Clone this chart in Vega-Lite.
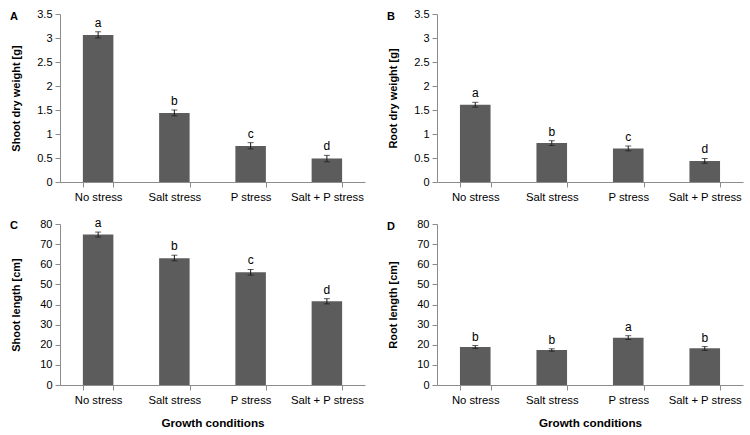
{
  "$schema": "https://vega.github.io/schema/vega-lite/v6.json",
  "padding": {"left": 10, "top": 8, "right": 5, "bottom": 3},
  "background": "white",
  "datasets": {
    "A": [
      {"cond": "No stress", "value": 3.06, "lo": 3.0, "hi": 3.13, "sig": "a"},
      {"cond": "Salt stress", "value": 1.44, "lo": 1.38, "hi": 1.5, "sig": "b"},
      {"cond": "P stress", "value": 0.75, "lo": 0.69, "hi": 0.82, "sig": "c"},
      {"cond": "Salt + P stress", "value": 0.49, "lo": 0.42, "hi": 0.555, "sig": "d"}
    ],
    "B": [
      {"cond": "No stress", "value": 1.61, "lo": 1.56, "hi": 1.66, "sig": "a"},
      {"cond": "Salt stress", "value": 0.81, "lo": 0.76, "hi": 0.86, "sig": "b"},
      {"cond": "P stress", "value": 0.7, "lo": 0.65, "hi": 0.75, "sig": "c"},
      {"cond": "Salt + P stress", "value": 0.44, "lo": 0.39, "hi": 0.49, "sig": "d"}
    ],
    "C": [
      {"cond": "No stress", "value": 74.8, "lo": 73.5, "hi": 76.0, "sig": "a"},
      {"cond": "Salt stress", "value": 63.0, "lo": 61.7, "hi": 64.5, "sig": "b"},
      {"cond": "P stress", "value": 56.0, "lo": 54.6, "hi": 57.4, "sig": "c"},
      {"cond": "Salt + P stress", "value": 41.6, "lo": 40.3, "hi": 42.9, "sig": "d"}
    ],
    "D": [
      {"cond": "No stress", "value": 18.9, "lo": 18.2, "hi": 19.6, "sig": "b"},
      {"cond": "Salt stress", "value": 17.4, "lo": 16.8, "hi": 18.0, "sig": "b"},
      {"cond": "P stress", "value": 23.5, "lo": 22.6, "hi": 24.5, "sig": "a"},
      {"cond": "Salt + P stress", "value": 18.2, "lo": 17.2, "hi": 19.1, "sig": "b"}
    ]
  },
  "columns": 2,
  "spacing": {"row": 14, "column": 22},
  "concat": [
    {
      "width": 305, "height": 168,
      "title": {"text": "A", "anchor": "start", "frame": "bounds", "fontSize": 11, "fontWeight": "bold", "baseline": "top", "offset": -14},
      "data": {"name": "A"},
      "encoding": {
        "x": {"field": "cond", "type": "nominal", "sort": null, "scale": {"paddingInner": 0.6, "paddingOuter": 0.3},
              "axis": {"title": null, "labelAngle": 0, "tickBand": "extent", "labelFontSize": 11.3, "labelPadding": 4, "tickSize": 5}}
      },
      "layer": [
        {"mark": {"type": "bar", "color": "#5c5c5c"},
         "encoding": {"y": {"field": "value", "type": "quantitative", "title": "Shoot dry weight [g]",
                            "scale": {"domain": [0, 3.5], "nice": false},
                            "axis": {"values": [0, 0.5, 1, 1.5, 2, 2.5, 3, 3.5], "format": ".1~f"}}}},
        {"mark": {"type": "errorbar", "color": "#1a1a1a", "thickness": 1, "ticks": {"size": 6, "color": "#1a1a1a", "thickness": 1}},
         "encoding": {"y": {"field": "lo", "type": "quantitative", "title": "Shoot dry weight [g]",
                            "axis": {"values": [0, 0.5, 1, 1.5, 2, 2.5, 3, 3.5], "format": ".1~f"}}, "y2": {"field": "hi"}}},
        {"mark": {"type": "text", "baseline": "bottom", "dy": -2, "fontSize": 12, "color": "#000"},
         "encoding": {"y": {"field": "hi", "type": "quantitative", "title": "Shoot dry weight [g]",
                            "axis": {"values": [0, 0.5, 1, 1.5, 2, 2.5, 3, 3.5], "format": ".1~f"}}, "text": {"field": "sig"}}}
      ]
    },
    {
      "width": 306, "height": 168,
      "title": {"text": "B", "anchor": "start", "frame": "bounds", "fontSize": 11, "fontWeight": "bold", "baseline": "top", "offset": -14},
      "data": {"name": "B"},
      "encoding": {
        "x": {"field": "cond", "type": "nominal", "sort": null, "scale": {"paddingInner": 0.6, "paddingOuter": 0.3},
              "axis": {"title": null, "labelAngle": 0, "tickBand": "extent", "labelFontSize": 11.3, "labelPadding": 4, "tickSize": 5}}
      },
      "layer": [
        {"mark": {"type": "bar", "color": "#5c5c5c"},
         "encoding": {"y": {"field": "value", "type": "quantitative", "title": "Root dry weight [g]",
                            "scale": {"domain": [0, 3.5], "nice": false},
                            "axis": {"values": [0, 0.5, 1, 1.5, 2, 2.5, 3, 3.5], "format": ".1~f"}}}},
        {"mark": {"type": "errorbar", "color": "#1a1a1a", "thickness": 1, "ticks": {"size": 6, "color": "#1a1a1a", "thickness": 1}},
         "encoding": {"y": {"field": "lo", "type": "quantitative", "title": "Root dry weight [g]",
                            "axis": {"values": [0, 0.5, 1, 1.5, 2, 2.5, 3, 3.5], "format": ".1~f"}}, "y2": {"field": "hi"}}},
        {"mark": {"type": "text", "baseline": "bottom", "dy": -2, "fontSize": 12, "color": "#000"},
         "encoding": {"y": {"field": "hi", "type": "quantitative", "title": "Root dry weight [g]",
                            "axis": {"values": [0, 0.5, 1, 1.5, 2, 2.5, 3, 3.5], "format": ".1~f"}}, "text": {"field": "sig"}}}
      ]
    },
    {
      "width": 305, "height": 161,
      "title": {"text": "C", "anchor": "start", "frame": "bounds", "fontSize": 11, "fontWeight": "bold", "baseline": "top", "offset": -14},
      "data": {"name": "C"},
      "encoding": {
        "x": {"field": "cond", "type": "nominal", "sort": null, "scale": {"paddingInner": 0.6, "paddingOuter": 0.3},
              "axis": {"title": "Growth conditions", "titleFontSize": 11.7, "titleFontWeight": "bold", "titlePadding": 12, "labelAngle": 0, "tickBand": "extent", "labelFontSize": 11.3, "labelPadding": 4, "tickSize": 5}}
      },
      "layer": [
        {"mark": {"type": "bar", "color": "#5c5c5c"},
         "encoding": {"y": {"field": "value", "type": "quantitative", "title": "Shoot length [cm]",
                            "scale": {"domain": [0, 80], "nice": false},
                            "axis": {"values": [0, 10, 20, 30, 40, 50, 60, 70, 80], "format": "d"}}}},
        {"mark": {"type": "errorbar", "color": "#1a1a1a", "thickness": 1, "ticks": {"size": 6, "color": "#1a1a1a", "thickness": 1}},
         "encoding": {"y": {"field": "lo", "type": "quantitative", "title": "Shoot length [cm]",
                            "axis": {"values": [0, 10, 20, 30, 40, 50, 60, 70, 80], "format": "d"}}, "y2": {"field": "hi"}}},
        {"mark": {"type": "text", "baseline": "bottom", "dy": -2, "fontSize": 12, "color": "#000"},
         "encoding": {"y": {"field": "hi", "type": "quantitative", "title": "Shoot length [cm]",
                            "axis": {"values": [0, 10, 20, 30, 40, 50, 60, 70, 80], "format": "d"}}, "text": {"field": "sig"}}}
      ]
    },
    {
      "width": 306, "height": 161,
      "title": {"text": "D", "anchor": "start", "frame": "bounds", "fontSize": 11, "fontWeight": "bold", "baseline": "top", "offset": -14},
      "data": {"name": "D"},
      "encoding": {
        "x": {"field": "cond", "type": "nominal", "sort": null, "scale": {"paddingInner": 0.6, "paddingOuter": 0.3},
              "axis": {"title": "Growth conditions", "titleFontSize": 11.7, "titleFontWeight": "bold", "titlePadding": 12, "labelAngle": 0, "tickBand": "extent", "labelFontSize": 11.3, "labelPadding": 4, "tickSize": 5}}
      },
      "layer": [
        {"mark": {"type": "bar", "color": "#5c5c5c"},
         "encoding": {"y": {"field": "value", "type": "quantitative", "title": "Root length [cm]",
                            "scale": {"domain": [0, 80], "nice": false},
                            "axis": {"values": [0, 10, 20, 30, 40, 50, 60, 70, 80], "format": "d"}}}},
        {"mark": {"type": "errorbar", "color": "#1a1a1a", "thickness": 1, "ticks": {"size": 6, "color": "#1a1a1a", "thickness": 1}},
         "encoding": {"y": {"field": "lo", "type": "quantitative", "title": "Root length [cm]",
                            "axis": {"values": [0, 10, 20, 30, 40, 50, 60, 70, 80], "format": "d"}}, "y2": {"field": "hi"}}},
        {"mark": {"type": "text", "baseline": "bottom", "dy": -2, "fontSize": 12, "color": "#000"},
         "encoding": {"y": {"field": "hi", "type": "quantitative", "title": "Root length [cm]",
                            "axis": {"values": [0, 10, 20, 30, 40, 50, 60, 70, 80], "format": "d"}}, "text": {"field": "sig"}}}
      ]
    }
  ],
  "config": {
    "font": "Liberation Sans",
    "view": {"stroke": null},
    "title": {"color": "#000", "font": "Liberation Sans"},
    "axis": {"grid": false, "domainColor": "#8c8c8c", "tickColor": "#8c8c8c", "labelColor": "#000", "titleColor": "#000",
             "labelFont": "Liberation Sans", "titleFont": "Liberation Sans"},
    "axisY": {"tickSize": 5, "labelPadding": 3, "labelFontSize": 11, "titleFontSize": 11, "titleFontWeight": "bold",
              "titlePadding": 14, "minExtent": 25, "maxExtent": 25}
  }
}
